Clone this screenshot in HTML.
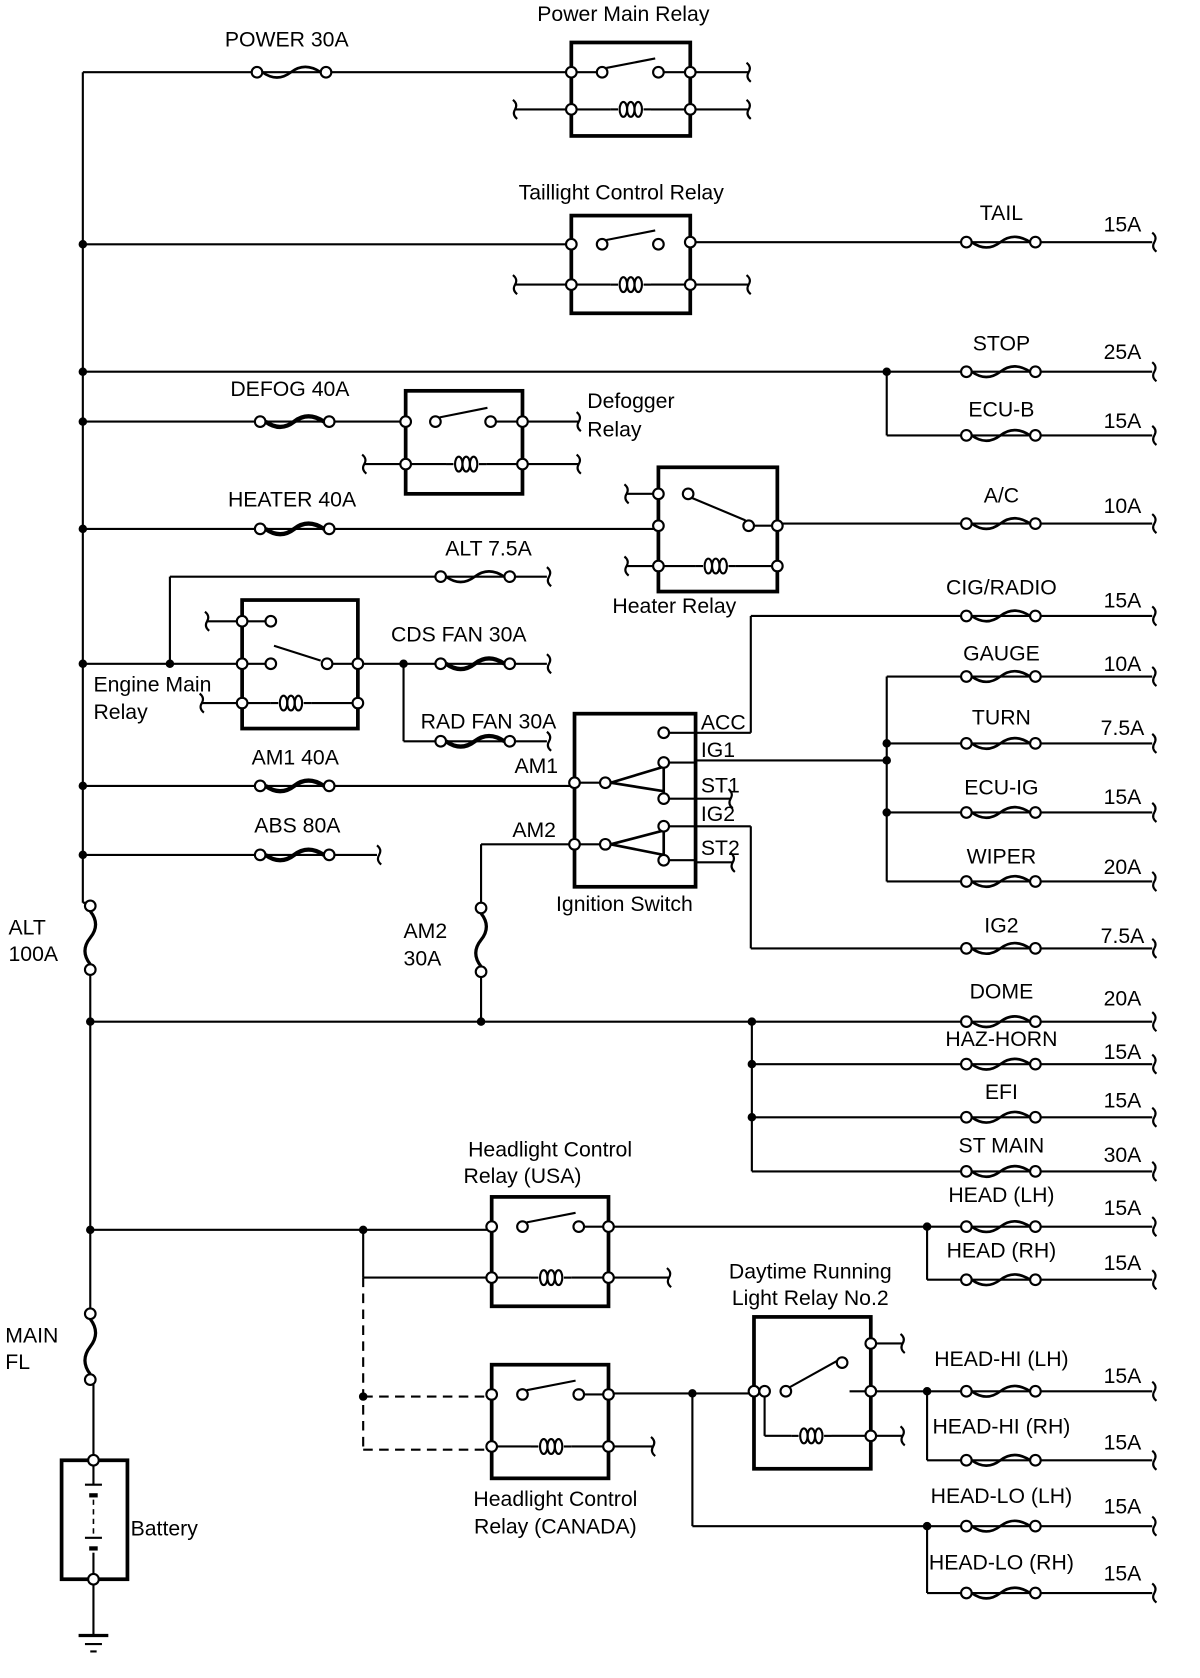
<!DOCTYPE html>
<html><head><meta charset="utf-8">
<style>
html,body{margin:0;padding:0;background:#fff;}
svg{display:block}
text{font-family:"Liberation Sans",sans-serif;font-size:20px;fill:#000}
</style></head>
<body>
<svg id="s" width="1200" height="1678" viewBox="0 0 1130 1580" preserveAspectRatio="none" xmlns="http://www.w3.org/2000/svg">
<g id="g" stroke="#000" stroke-width="2" fill="none"></g>
<g id="c" stroke="#000" stroke-width="2"></g>
<g id="t"></g>
</svg>
<script>
var g=document.getElementById('g'),cg=document.getElementById('c'),tg=document.getElementById('t'),NS='http://www.w3.org/2000/svg';
function el(tag,a,p){var e=document.createElementNS(NS,tag);for(var k in a)e.setAttribute(k,a[k]);(p||g).appendChild(e);return e;}
function L(x1,y1,x2,y2,w,d){var a={x1:x1,y1:y1,x2:x2,y2:y2};if(w)a['stroke-width']=w;if(d)a['stroke-dasharray']=d;el('line',a);}
function P(d,w){var a={d:d};if(w)a['stroke-width']=w;el('path',a);}
function C(x,y){el('circle',{cx:x,cy:y,r:5,fill:'#fff'},cg);}
function D(x,y){el('circle',{cx:x,cy:y,r:3,fill:'#000'},cg);}
function fH(x,y,thick){P('M'+(x+5)+','+y+' q14,10 27,0 t28,0',thick?4:2.5);C(x,y);C(x+65,y);}
function fV(x,y,len){len=len||62;var h=(len-10)/2;P('M'+x+','+(y+5)+' q10,'+(h/2)+' 0,'+h+' t0,'+h,3);C(x,y);C(x,y+len);}
function E(x,y){P('M'+(x-2)+','+(y-9)+' q5,4 2,9 q-3,5 2,9',2);}
function T(x,y,s,a){var e=el('text',{x:x,y:y,'text-anchor':a||'middle'},tg);e.textContent=s;}
function coil(x,y){L(x,y,x+7,y);[12,19,26].forEach(function(d){el('ellipse',{cx:x+d,cy:y,rx:3.5,ry:7,'stroke-width':2});});L(x+31,y,x+38,y);}
function box(x1,y1,x2,y2){el('rect',{x:x1,y:y1,width:x2-x1,height:y2-y1,'stroke-width':3.5});}
function sw(x1,y1,x2,y2){C(x1,y1);C(x2,y2);L(x1+4,y1-4,x2-3,y2-13,2);}
function fuseRow(xs,y,name,amp,ly,ay){L(xs,y,1085,y);fH(910,y);E(1087,y);T(943,ly,name);T(1057,ay,amp);}

/* main bus */
L(78,68,78,625);L(78,625,78,850);L(78,850,85,850);fV(85,853,60);L(85,913,85,1237);fV(85,1237,62);L(85,1299,88,1299);L(88,1299,88,1375);

/* Power main relay */
L(78,68,538,68);fH(242,68);T(270,44,'POWER 30A');
box(538,40,650,128);C(538,68);C(538,103);C(650,68);C(650,103);sw(567,68,620,68);L(538,68,562,68);L(625,68,650,68);
coil(575,103);L(538,103,575,103);L(613,103,650,103);L(485,103,538,103);E(485,103);L(650,68,705,68);E(705,68);L(650,103,705,103);E(705,103);
T(587,20,'Power Main Relay');

/* Taillight */
D(78,230);L(78,230,538,230);box(538,203,650,295);C(538,230);C(538,268);C(650,228);C(650,268);sw(567,230,620,230);
coil(575,268);L(538,268,575,268);L(613,268,650,268);L(485,268,538,268);E(485,268);L(650,268,705,268);E(705,268);
fuseRow(650,228,'TAIL','15A',207,218);T(585,188,'Taillight Control Relay');

/* STOP / ECU-B */
D(78,350);L(78,350,835,350);D(835,350);fuseRow(835,350,'STOP','25A',330,338);L(835,350,835,410);fuseRow(835,410,'ECU-B','15A',392,403);

/* DEFOG */
D(78,397);L(78,397,382,397);fH(245,397,1);T(273,373,'DEFOG 40A');
box(382,368,492,465);C(382,397);C(382,437);C(492,397);C(492,437);sw(410,397,462,397);L(467,397,492,397);
coil(420,437);L(382,437,420,437);L(458,437,492,437);L(343,437,382,437);E(343,437);L(492,397,545,397);E(545,397);L(492,437,545,437);E(545,437);
T(553,384,'Defogger','start');T(553,411,'Relay','start');

/* HEATER */
D(78,498);L(78,498,620,498);fH(245,498,1);T(275,477,'HEATER 40A');
box(620,440,732,557);C(620,465);C(620,495);C(620,533);C(732,495);C(732,533);C(648,465);C(705,495);L(652,469,702,490);L(710,495,732,495);
L(590,465,620,465);E(590,465);L(590,533,620,533);E(590,533);coil(655,533);L(620,533,655,533);L(693,533,732,533);
fuseRow(732,493,'A/C','10A',473,483);T(635,577,'Heater Relay');

/* ALT 7.5 */
L(160,625,160,543);L(160,543,515,543);fH(415,543);E(517,543);T(460,523,'ALT 7.5A');D(160,625);

/* Engine main relay */
D(78,625);L(78,625,228,625);box(228,565,337,686);C(228,585);C(228,625);C(228,662);C(337,625);C(337,662);
L(195,585,228,585);E(195,585);L(228,585,255,585);C(255,585);L(228,625,255,625);L(258,608,302,622);C(255,625);C(308,625);L(313,625,337,625);
L(190,662,228,662);E(190,662);coil(255,662);L(228,662,255,662);L(293,662,337,662);
L(337,625,515,625);D(380,625);fH(415,625,1);E(517,625);T(432,604,'CDS FAN 30A');
L(380,625,380,698);L(380,698,515,698);fH(415,698,1);E(517,698);T(460,686,'RAD FAN 30A');
T(88,651,'Engine Main','start');T(88,677,'Relay','start');

/* AM1 */
D(78,740);L(78,740,541,740);fH(245,740,1);T(278,720,'AM1 40A');T(505,728,'AM1');
/* ABS */
D(78,805);L(78,805,355,805);fH(245,805,1);E(357,805);T(280,784,'ABS 80A');

/* Ignition switch */
box(541,672,655,835);C(541,737);C(541,795);
[690,718,752,778,810].forEach(function(y){C(625,y);L(630,y,655,y);});
P('M546,737 L570,737');C(570,737);P('M575,737 L625,722 L625,745 Z',2.5);
P('M546,795 L570,795');C(570,795);P('M575,795 L625,782 L625,805 Z',2.5);
T(660,687,'ACC','start');T(660,713,'IG1','start');T(660,746,'ST1','start');T(660,773,'IG2','start');T(660,805,'ST2','start');
L(655,752,688,752);E(688,752);L(655,812,690,812);E(690,812);
T(588,858,'Ignition Switch');
/* ACC */
L(655,690,707,690);L(707,690,707,580);fuseRow(707,580,'CIG/RADIO','15A',560,572);
/* IG1 bus */
L(655,716,835,716);D(835,716);L(835,637,835,830);
fuseRow(835,637,'GAUGE','10A',622,632);D(835,700);fuseRow(835,700,'TURN','7.5A',682,692);
D(835,765);fuseRow(835,765,'ECU-IG','15A',748,757);fuseRow(835,830,'WIPER','20A',813,823);
/* IG2 */
L(655,778,707,778);L(707,778,707,893);fuseRow(707,893,'IG2','7.5A',878,888);
/* AM2 */
L(541,795,453,795);L(453,795,453,855);fV(453,855,60);L(453,915,453,962);T(503,788,'AM2');T(380,883,'AM2','start');T(380,909,'30A','start');

T(8,880,'ALT','start');T(8,905,'100A','start');

/* bus 962 */
D(85,962);L(85,962,708,962);D(453,962);D(708,962);fuseRow(708,962,'DOME','20A',940,947);
L(708,962,708,1103);D(708,1002);fuseRow(708,1002,'HAZ-HORN','15A',985,997);D(708,1052);fuseRow(708,1052,'EFI','15A',1035,1043);
fuseRow(708,1103,'ST MAIN','30A',1085,1094);

/* Headlight USA */
D(85,1158);L(85,1158,463,1158);D(342,1158);box(463,1127,573,1230);C(463,1155);C(463,1203);C(573,1155);C(573,1203);
sw(492,1155,545,1155);L(550,1155,573,1155);coil(500,1203);L(463,1203,500,1203);L(538,1203,573,1203);L(573,1203,630,1203);E(630,1203);
L(342,1158,342,1203);L(342,1203,463,1203);
L(573,1155,873,1155);fuseRow(873,1155,'HEAD (LH)','15A',1132,1144);D(873,1155);L(873,1155,873,1205);fuseRow(873,1205,'HEAD (RH)','15A',1184,1196);
T(518,1089,'Headlight Control');T(492,1114,'Relay (USA)');
L(342,1203,342,1365,2,'9,6');L(342,1315,463,1315,2,'9,6');L(342,1365,463,1365,2,'9,6');D(342,1315);

/* Canada */
box(463,1285,573,1392);C(463,1313);C(463,1362);C(573,1313);C(573,1362);sw(492,1313,545,1313);L(550,1313,573,1313);
coil(500,1362);L(463,1362,500,1362);L(538,1362,573,1362);L(573,1362,615,1362);E(615,1362);
L(573,1312,710,1312);D(652,1312);L(652,1312,652,1437);L(652,1437,873,1437);D(873,1437);
fuseRow(873,1437,'HEAD-LO (LH)','15A',1415,1425);L(873,1437,873,1500);fuseRow(873,1500,'HEAD-LO (RH)','15A',1478,1488);
T(523,1418,'Headlight Control');T(523,1444,'Relay (CANADA)');

/* DRL */
box(710,1240,820,1383);C(710,1310);C(720,1310);C(820,1265);C(820,1310);C(820,1352);
C(740,1310);C(793,1283);L(744,1306,789,1281);L(820,1310,800,1310);L(720,1310,720,1352);coil(745,1352);L(720,1352,745,1352);L(783,1352,820,1352);
L(820,1265,850,1265);E(850,1265);L(820,1352,850,1352);E(850,1352);
L(820,1310,873,1310);fuseRow(873,1310,'HEAD-HI (LH)','15A',1286,1302);D(873,1310);L(873,1310,873,1375);fuseRow(873,1375,'HEAD-HI (RH)','15A',1350,1365);
T(763,1204,'Daytime Running');T(763,1229,'Light Relay No.2');

/* MAIN FL & battery */
T(5,1264,'MAIN','start');T(5,1289,'FL','start');
box(58,1375,120,1487);C(88,1375);C(88,1487);
L(88,1380,88,1398);L(80,1398,96,1398,2);L(84,1408,92,1408,4);L(88,1412,88,1445,1.5,'5,4');L(80,1448,96,1448,2);L(84,1458,92,1458,4);L(88,1462,88,1482);
T(123,1446,'Battery','start');
L(88,1492,88,1540);L(74,1540,102,1540,3);L(80,1548,96,1548,2);L(85,1555,91,1555,2);
</script>
</body></html>
